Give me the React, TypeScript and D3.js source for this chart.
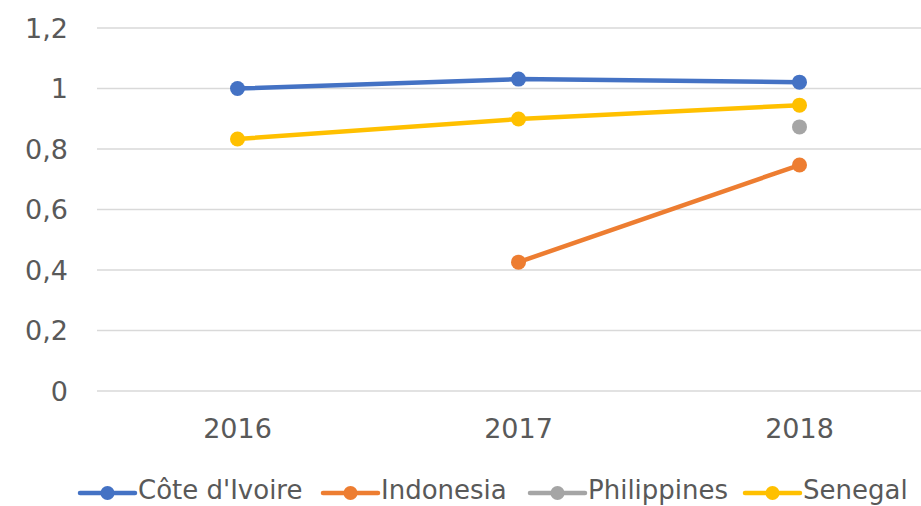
import { useEffect, useRef } from "react";
import * as d3 from "d3";

const YEARS = ["2016", "2017", "2018"];
const Y_TICKS = [0, 0.2, 0.4, 0.6, 0.8, 1, 1.2];

const COTE = [1.0, 1.031, 1.021];
const INDONESIA = [null, 0.426, 0.747];
const PHILIPPINES = [null, null, 0.873];
const SENEGAL = [0.833, 0.899, 0.945];

const SERIES = [
  { name: "Côte d'Ivoire", values: COTE, color: "#4472C4" },
  { name: "Indonesia", values: INDONESIA, color: "#ED7D31" },
  { name: "Philippines", values: PHILIPPINES, color: "#A5A5A5" },
  { name: "Senegal", values: SENEGAL, color: "#FFC000" },
];

const FONT = "'DejaVu Sans', sans-serif";

export default function App() {
  const svgRef = useRef<SVGSVGElement>(null);

  useEffect(() => {
    document.body.style.margin = "0";
    if (!svgRef.current) return;
    const W = 921;
    const svg = d3.select(svgRef.current);
    svg.selectAll("*").remove();

    const x = d3.scaleBand().domain(YEARS).range([97, 940]);
    const y = d3.scaleLinear().domain([0, 1.2]).range([391, 28]);

    // grid
    svg.append("g")
      .selectAll("line")
      .data(Y_TICKS)
      .join("line")
      .attr("x1", 97).attr("x2", W)
      .attr("y1", (d) => y(d)).attr("y2", (d) => y(d))
      .attr("stroke", "#D9D9D9").attr("stroke-width", 1.5);

    // y labels
    svg.append("g")
      .selectAll("text")
      .data(Y_TICKS)
      .join("text")
      .attr("x", 68).attr("y", (d) => y(d))
      .attr("dy", "0.36em")
      .attr("text-anchor", "end")
      .attr("fill", "#595959")
      .attr("font-family", FONT)
      .attr("font-size", "27px")
      .text((d) => d3.format(".1~f")(d).replace(".", ","));

    // x labels
    svg.append("g")
      .selectAll("text")
      .data(YEARS)
      .join("text")
      .attr("x", (d) => x(d)! + x.bandwidth() / 2)
      .attr("y", 438)
      .attr("text-anchor", "middle")
      .attr("fill", "#595959")
      .attr("font-family", FONT)
      .attr("font-size", "27px")
      .text((d) => d);

    const line = d3.line<number | null>()
      .defined((d) => d != null)
      .x((_, i) => x(YEARS[i])! + x.bandwidth() / 2)
      .y((d) => y(d as number));

    SERIES.forEach((s) => {
      svg.append("path")
        .attr("d", line(s.values))
        .attr("fill", "none")
        .attr("stroke", s.color)
        .attr("stroke-width", 4.5)
        .attr("stroke-linejoin", "round")
        .attr("stroke-linecap", "round");
      svg.append("g")
        .selectAll("circle")
        .data(s.values.map((v, i) => ({ v, i })).filter((d) => d.v != null))
        .join("circle")
        .attr("cx", (d) => x(YEARS[d.i])! + x.bandwidth() / 2)
        .attr("cy", (d) => y(d.v as number))
        .attr("r", 7.5)
        .attr("fill", s.color);
    });

    // legend
    const legendX = [80, 323, 530, 745];
    const lg = svg.append("g")
      .selectAll("g")
      .data(SERIES)
      .join("g")
      .attr("transform", (_, i) => `translate(${legendX[i]},493)`);
    lg.append("line")
      .attr("x1", 0).attr("x2", 55)
      .attr("stroke", (d) => d.color)
      .attr("stroke-width", 4.5)
      .attr("stroke-linecap", "round");
    lg.append("circle")
      .attr("cx", 27.5).attr("r", 7)
      .attr("fill", (d) => d.color);
    lg.append("text")
      .attr("x", 58).attr("y", 6)
      .attr("fill", "#595959")
      .attr("font-family", FONT)
      .attr("font-size", "26px")
      .text((d) => d.name);
  }, []);

  return <svg ref={svgRef} width={921} height={506} style={{ display: "block", background: "#fff" }} />;
}
